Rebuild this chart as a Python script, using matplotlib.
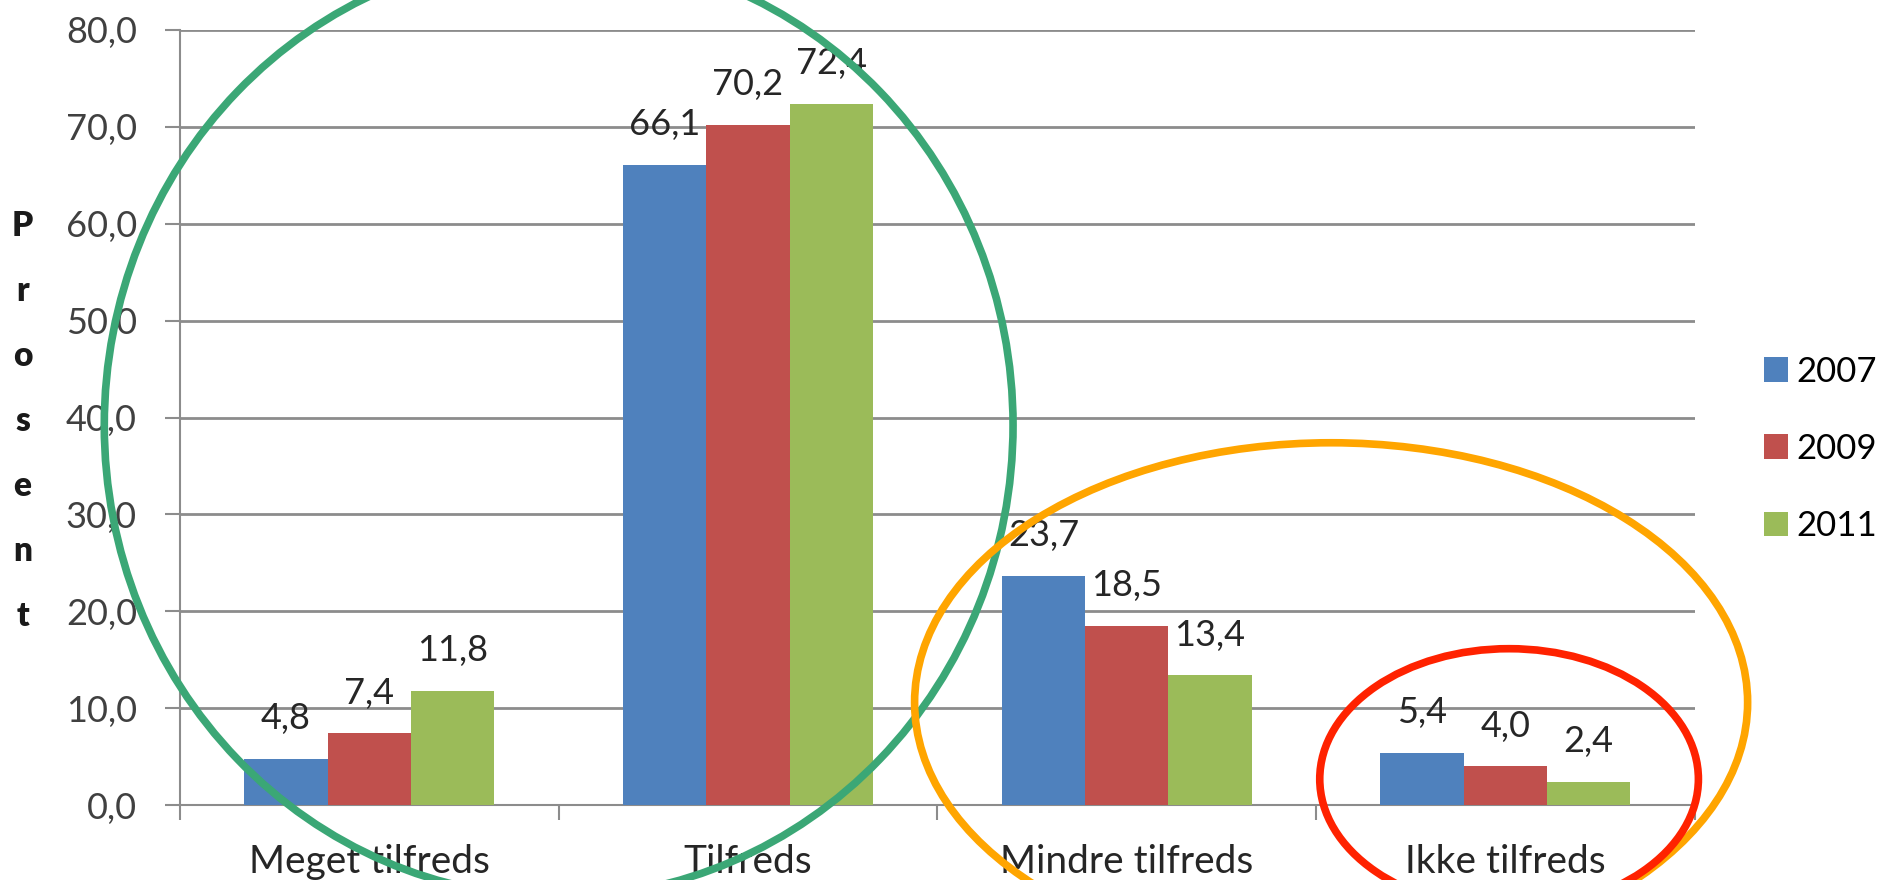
import matplotlib
matplotlib.use('Agg')
import matplotlib.pyplot as plt
import numpy as np
from matplotlib.patches import Ellipse
from matplotlib.ticker import FuncFormatter, FixedLocator

categories = ['Meget tilfreds', 'Tilfreds', 'Mindre tilfreds', 'Ikke tilfreds']
years = ['2007', '2009', '2011']
values_2007 = [4.8, 66.1, 23.7, 5.4]
values_2009 = [7.4, 70.2, 18.5, 4.0]
values_2011 = [11.8, 72.4, 13.4, 2.4]
y_ticks = [0, 10, 20, 30, 40, 50, 60, 70, 80]

colors = ['#4F81BD', '#C0504D', '#9BBB59']
series = [values_2007, values_2009, values_2011]

plt.rcParams['font.family'] = ['Lato', 'DejaVu Sans']

fig = plt.figure(figsize=(18.85, 8.8), dpi=100)
ax = fig.add_axes([0.0955, 0.085, 0.8035, 0.881])

x = np.arange(len(categories))
bar_w = 0.22
for i, (vals, col, yr) in enumerate(zip(series, colors, years)):
    pos = x + (i - 1) * bar_w
    bars = ax.bar(pos, vals, width=bar_w, color=col, label=yr, zorder=3)
    for b, v in zip(bars, vals):
        ax.annotate(f'{v:.1f}'.replace('.', ','),
                    (b.get_x() + b.get_width() / 2, v),
                    xytext=(0, 29), textcoords='offset points',
                    ha='center', va='center', fontsize=26, color='#262626')

ax.set_xlim(-0.5, len(categories) - 0.5)
ax.set_ylim(0, 80)
ax.set_yticks(y_ticks)
ax.yaxis.set_major_formatter(FuncFormatter(lambda v, p: f'{v:.1f}'.replace('.', ',')))
ax.grid(axis='y', color='#8c8c8c', linewidth=2, zorder=0)
ax.tick_params(axis='y', length=11, width=1.5, color='#8c8c8c', pad=20,
               labelsize=26, labelcolor='#404040')

# category boundaries as major ticks, names on minor ticks
ax.xaxis.set_major_locator(FixedLocator(np.arange(len(categories) + 1) - 0.5))
ax.xaxis.set_major_formatter(FuncFormatter(lambda v, p: ''))
ax.xaxis.set_minor_locator(FixedLocator(x))
ax.set_xticklabels(categories, minor=True)
ax.tick_params(axis='x', which='major', length=11, width=1.5, color='#8c8c8c')
ax.tick_params(axis='x', which='minor', length=0, pad=28, labelsize=28, labelcolor='#262626')

for side in ['top', 'right']:
    ax.spines[side].set_visible(False)
for side in ['left', 'bottom']:
    ax.spines[side].set_color('#8c8c8c')
    ax.spines[side].set_linewidth(1.5)

fig.text(0.012, 0.522, '\n'.join('Prosent'), ha='center', va='center',
         fontsize=24, fontweight='heavy', linespacing=2.27, color='#1a1a1a')

ax.legend(loc='center left', bbox_to_anchor=(0.919, 0.49), bbox_transform=fig.transFigure,
          frameon=False, fontsize=25, handlelength=0.7, handleheight=0.7,
          handletextpad=0.25, labelspacing=1.3)

# highlight ellipses
highlights = [
    ((0.5, 39.2), 2.40, 97.4, '#3BA776'),
    ((2.54, 10.6), 2.20, 53.6, '#FFA500'),
    ((3.01, 2.7), 1.00, 26.9, '#FF2200'),
]
for center, w, h, col in highlights:
    ax.add_patch(Ellipse(center, w, h, fill=False, edgecolor=col, linewidth=5.5,
                         clip_on=False, zorder=5))

fig.savefig('out.png', dpi=100)
